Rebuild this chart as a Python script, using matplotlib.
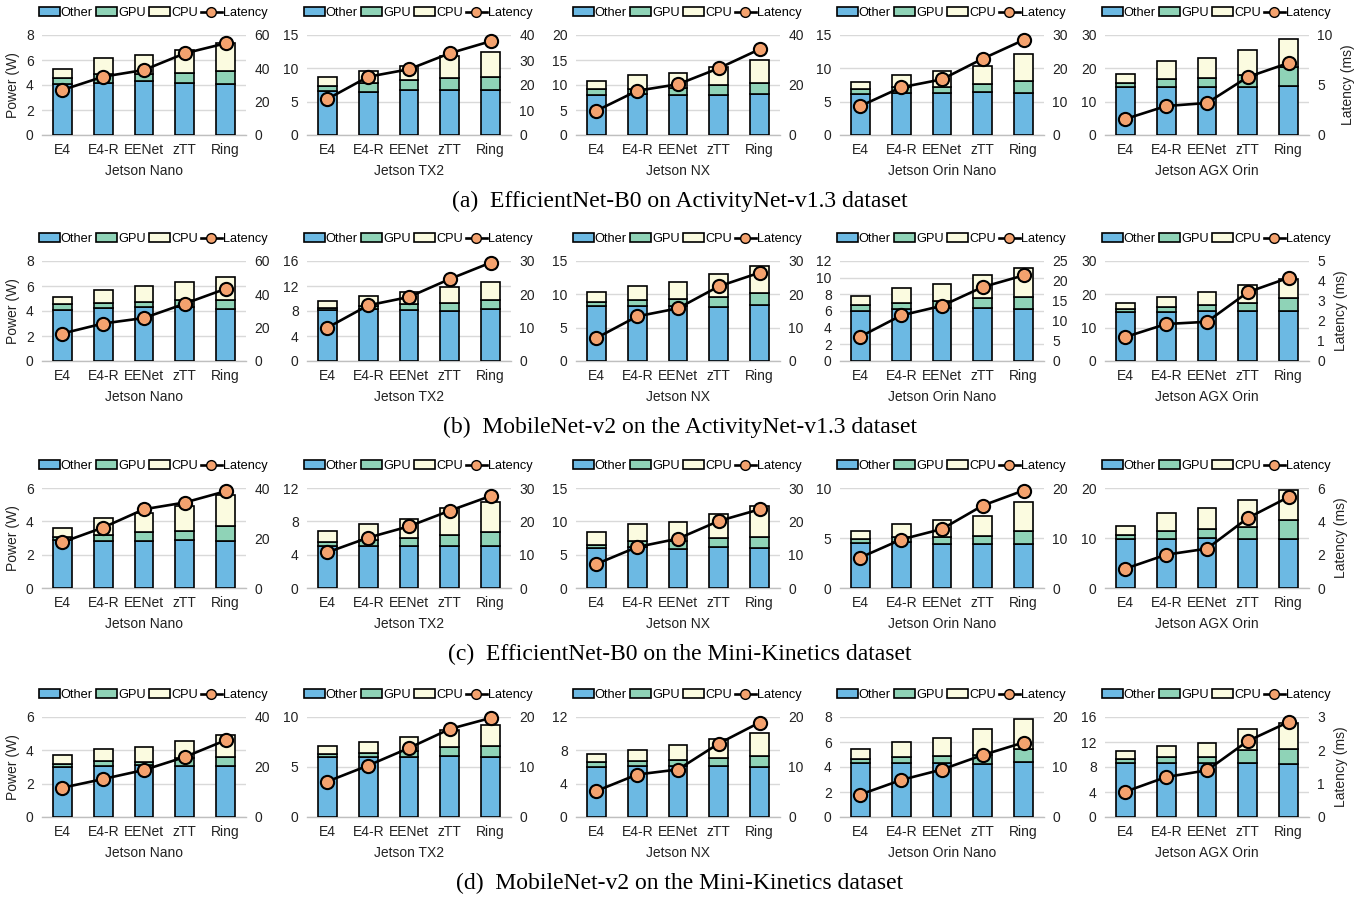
import matplotlib
matplotlib.use("Agg")
import matplotlib.pyplot as plt
import numpy as np
from matplotlib.patches import Patch
from matplotlib.lines import Line2D

plt.rcParams['font.family'] = ['Liberation Sans', 'DejaVu Sans']

methods = ["E4", "E4-R", "EENet", "zTT", "Ring"]
devices = ["Jetson Nano", "Jetson TX2", "Jetson NX", "Jetson Orin Nano", "Jetson AGX Orin"]
captions = ["(a)  EfficientNet-B0 on ActivityNet-v1.3 dataset",
            "(b)  MobileNet-v2 on the ActivityNet-v1.3 dataset",
            "(c)  EfficientNet-B0 on the Mini-Kinetics dataset",
            "(d)  MobileNet-v2 on the Mini-Kinetics dataset"]

# power split (W) per device -> per method; latency (ms)
other_a = [[4.1, 4.2, 4.3, 4.2, 4.1], [6.6, 6.5, 6.7, 6.8, 6.7], [8.1, 8.2, 8.1, 8.1, 8.3],
           [6.1, 6.3, 6.3, 6.4, 6.3], [14.3, 14.5, 14.3, 14.5, 14.7]]
gpu_a = [[0.5, 0.7, 0.6, 0.8, 1.0], [0.7, 1.3, 1.5, 1.7, 2.0], [1.1, 1.1, 1.4, 1.9, 2.2],
         [0.8, 0.9, 0.85, 1.25, 1.85], [1.4, 2.4, 2.9, 3.5, 5.8]]
cpu_a = [[0.7, 1.3, 1.5, 1.8, 2.3], [1.4, 1.8, 2.1, 3.3, 3.8], [1.7, 2.7, 3.0, 3.7, 4.6],
         [1.1, 1.85, 2.45, 2.7, 3.95], [2.6, 5.3, 5.8, 7.5, 8.3]]
lat_a = [[27, 35, 39, 49, 55], [14.4, 23.3, 26.3, 32.7, 37.5], [9.7, 17.7, 20.3, 26.7, 34.3],
         [8.7, 14.3, 16.7, 22.9, 28.5], [1.6, 2.9, 3.2, 5.8, 7.2]]

other_b = [[4.1, 4.25, 4.3, 4.3, 4.15], [8.1, 8.3, 8.2, 8.0, 8.3], [8.2, 8.2, 8.3, 8.1, 8.4],
           [6.05, 6.2, 6.4, 6.4, 6.25], [14.7, 14.7, 14.9, 14.9, 15.1]]
gpu_b = [[0.45, 0.4, 0.4, 0.55, 0.75], [0.45, 0.5, 0.9, 1.3, 1.45], [0.6, 0.9, 1.05, 1.55, 1.8],
         [0.65, 0.8, 0.8, 1.2, 1.45], [0.9, 1.6, 1.9, 2.4, 3.8]]
cpu_b = [[0.6, 1.05, 1.3, 1.5, 1.85], [1.1, 1.55, 1.95, 2.6, 2.9], [1.6, 2.1, 2.55, 3.35, 4.0],
         [1.15, 1.75, 2.1, 2.7, 3.5], [1.9, 2.8, 3.8, 5.4, 5.8]]
lat_b = [[16.5, 22.5, 25.8, 34.4, 43.3], [10.0, 16.7, 19.2, 24.6, 29.5], [6.9, 13.4, 15.8, 22.4, 26.5],
         [6.1, 11.4, 13.8, 18.5, 21.4], [1.2, 1.85, 1.96, 3.44, 4.16]]

other_c = [[2.9, 2.85, 2.85, 2.9, 2.85], [5.0, 5.0, 5.1, 5.1, 5.1], [6.0, 6.1, 5.9, 6.2, 6.0],
           [4.5, 4.6, 4.45, 4.4, 4.45], [9.9, 9.8, 10.0, 9.8, 9.8]]
gpu_c = [[0.18, 0.35, 0.5, 0.55, 0.85], [0.55, 0.8, 0.95, 1.25, 1.6], [0.5, 1.0, 1.1, 1.3, 1.6],
         [0.43, 0.55, 0.7, 0.85, 1.3], [0.8, 1.7, 1.9, 2.5, 3.9]]
cpu_c = [[0.52, 1.0, 1.15, 1.45, 1.85], [1.35, 1.85, 2.2, 3.25, 3.6], [1.9, 2.5, 2.85, 3.6, 4.65],
         [0.77, 1.25, 1.7, 1.95, 2.85], [1.8, 3.6, 4.2, 5.3, 5.9]]
lat_c = [[18.3, 24.2, 31.5, 34.2, 38.7], [10.7, 15.1, 18.5, 23.2, 27.6], [7.2, 12.3, 14.8, 20.1, 23.6],
         [6.1, 9.7, 11.8, 16.5, 19.5], [1.16, 2.0, 2.36, 4.2, 5.46]]

other_d = [[3.02, 3.06, 3.1, 3.06, 3.06], [6.04, 6.0, 6.04, 6.14, 6.04], [5.96, 6.1, 6.1, 6.1, 6.04],
           [4.35, 4.32, 4.35, 4.25, 4.38], [8.6, 8.6, 8.6, 8.6, 8.45]]
gpu_d = [[0.18, 0.29, 0.2, 0.49, 0.52], [0.26, 0.45, 0.56, 0.91, 1.11], [0.69, 0.67, 0.8, 1.0, 1.26],
         [0.32, 0.51, 0.54, 0.75, 1.04], [0.65, 0.97, 1.08, 2.05, 2.41]]
cpu_d = [[0.52, 0.73, 0.92, 1.02, 1.35], [0.8, 1.05, 1.4, 1.65, 2.05], [0.92, 1.33, 1.8, 2.3, 2.75],
         [0.81, 1.17, 1.47, 2.06, 2.45], [1.35, 1.73, 2.22, 3.45, 4.19]]
lat_d = [[11.7, 15.2, 18.8, 24.0, 30.7], [7.1, 10.3, 13.8, 17.6, 19.8], [5.2, 8.5, 9.5, 14.7, 18.9],
         [4.5, 7.4, 9.5, 12.4, 14.9], [0.76, 1.2, 1.4, 2.28, 2.85]]

# axis limits: (power max, power step, latency max, latency step)
limits_a = [(8, 2, 60, 20), (15, 5, 40, 10), (20, 5, 40, 20), (15, 5, 30, 10), (30, 10, 10, 5)]
limits_b = [(8, 2, 60, 20), (16, 4, 30, 10), (15, 5, 30, 10), (12, 2, 25, 5), (30, 10, 5, 1)]
limits_c = [(6, 2, 40, 20), (12, 4, 30, 10), (15, 5, 30, 10), (10, 5, 20, 10), (20, 10, 6, 2)]
limits_d = [(6, 2, 40, 20), (10, 5, 20, 10), (12, 4, 20, 10), (8, 2, 20, 10), (16, 4, 3, 1)]

rows = [(other_a, gpu_a, cpu_a, lat_a, limits_a),
        (other_b, gpu_b, cpu_b, lat_b, limits_b),
        (other_c, gpu_c, cpu_c, lat_c, limits_c),
        (other_d, gpu_d, cpu_d, lat_d, limits_d)]

c_other = "#6cb9e3"
c_gpu = "#8fd3b7"
c_cpu = "#fbfbe0"
c_lat = "#f4a26e"
grid_c = "#d9d9d9"
txt_c = "#222222"
fs = 10

W, H = 1360, 901
fig = plt.figure(figsize=(W / 100, H / 100), dpi=100)

col_left = [42, 307, 576, 840, 1105]
ax_w = 204
row_zero = [135, 361, 588, 817]
ax_h = 100

x = np.arange(len(methods))
for r, (oth, gpu, cpu, lat, lims) in enumerate(rows):
    for c in range(5):
        left = col_left[c] / W
        bottom = 1 - row_zero[r] / H
        ax = fig.add_axes([left, bottom, ax_w / W, ax_h / H])
        pmax, pstep, lmax, lstep = lims[c]
        o = np.array(oth[c])
        g = np.array(gpu[c])
        cp = np.array(cpu[c])
        kw = dict(width=0.46, edgecolor="black", linewidth=1.2, zorder=3)
        ax.bar(x, o, color=c_other, **kw)
        ax.bar(x, g, bottom=o, color=c_gpu, **kw)
        ax.bar(x, cp, bottom=o + g, color=c_cpu, **kw)
        ax.set_ylim(0, pmax)
        ax.set_yticks(np.arange(0, pmax + 0.01, pstep))
        ax.set_xlim(-0.5, 4.5)
        ax.set_xticks(x)
        ax.set_xticklabels(methods)
        ax.yaxis.grid(True, color=grid_c, linewidth=1.0, zorder=0)
        ax.set_axisbelow(True)
        for s in ["top", "right", "left"]:
            ax.spines[s].set_visible(False)
        ax.spines["bottom"].set_color("#bfbfbf")
        ax.spines["bottom"].set_linewidth(1.0)
        ax.tick_params(length=0, labelsize=fs, colors=txt_c, pad=6)
        ax.set_xlabel(devices[c], fontsize=fs, color=txt_c, labelpad=5)
        if c == 0:
            ax.set_ylabel("Power (W)", fontsize=fs, color=txt_c, labelpad=4)

        ax2 = ax.twinx()
        ax2.plot(x, lat[c], color="black", linewidth=1.9, marker="o", markersize=9.5,
                 markerfacecolor=c_lat, markeredgecolor="black", markeredgewidth=1.5,
                 zorder=5, clip_on=False)
        ax2.set_ylim(0, lmax)
        ax2.set_yticks(np.arange(0, lmax + 0.001, lstep))
        for s in ["top", "right", "left", "bottom"]:
            ax2.spines[s].set_visible(False)
        ax2.tick_params(length=0, labelsize=fs, colors=txt_c, pad=6)
        if c == 4:
            ax2.set_ylabel("Latency (ms)", fontsize=fs, color=txt_c, labelpad=6)

        handles = [Patch(facecolor=c_other, edgecolor="black", linewidth=1.2, label="Other"),
                   Patch(facecolor=c_gpu, edgecolor="black", linewidth=1.2, label="GPU"),
                   Patch(facecolor=c_cpu, edgecolor="black", linewidth=1.2, label="CPU"),
                   Line2D([0], [0], color="black", linewidth=1.9, marker="o", markersize=7,
                          markerfacecolor=c_lat, markeredgecolor="black", label="Latency")]
        ax.legend(handles=handles, ncol=4, frameon=False, fontsize=9.2,
                  loc="center", bbox_to_anchor=(0.545, 1.22),
                  handlelength=1.65, handleheight=0.6, handletextpad=0.08,
                  columnspacing=0.25, borderpad=0.1)

    fig.text(0.5, 1 - (row_zero[r] + 66) / H, captions[r], ha="center", va="center",
             fontsize=17, family=["Liberation Serif", "DejaVu Serif"])

fig.savefig("out.png", dpi=100)
